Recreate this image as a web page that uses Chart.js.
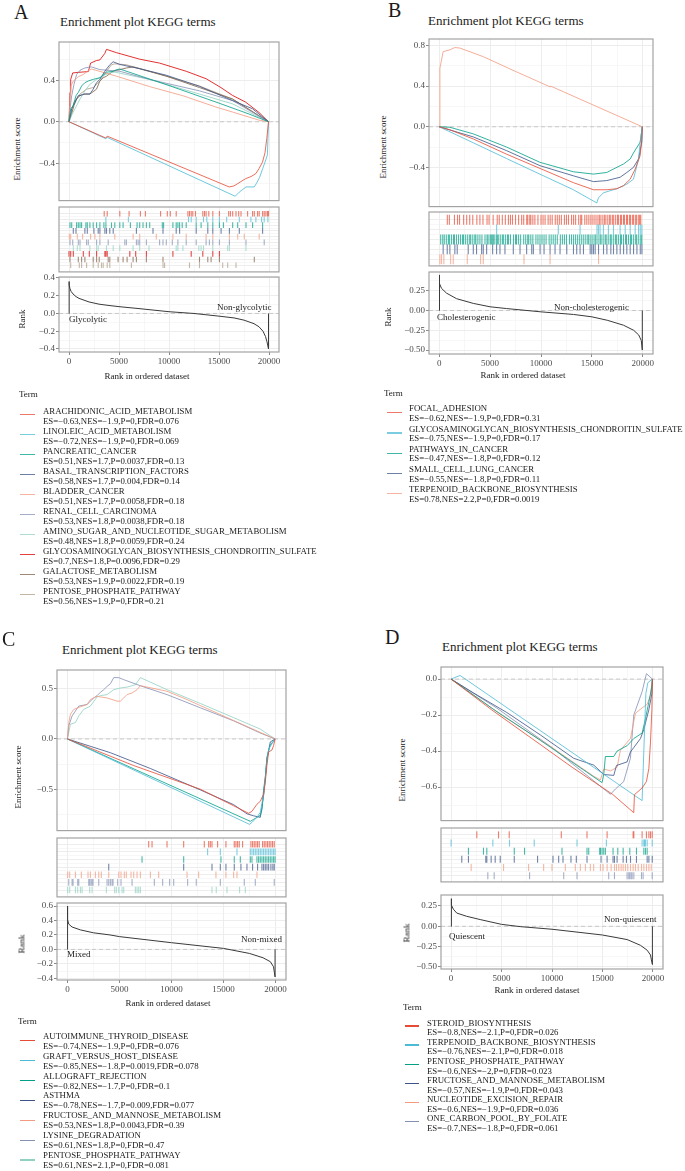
<!DOCTYPE html>
<html><head><meta charset="utf-8">
<script src="https://cdn.jsdelivr.net/npm/chart.js@4.4.1/dist/chart.umd.min.js"></script>
<style>
html,body{margin:0;padding:0;background:#fff;}
#root{position:relative;width:685px;height:1171px;overflow:hidden;font-family:"Liberation Serif","Times New Roman",serif;color:#1a1a1a;}
.t{position:absolute;white-space:nowrap;line-height:1;}
canvas{position:absolute;}
.k{position:absolute;height:1.3px;}
</style></head><body><div id="root"></div>
<script>
const FONT = '"Liberation Serif","Times New Roman",serif';
const npg = ['#E64B35','#4DBBD5','#00A087','#3C5488','#F39B7F','#8491B4','#91D1C2','#DC0000','#7E6148','#B09C85'];

// shared x axis
const xMin = -1000, xMax = 21000;
const xMajor = [0, 5000, 10000, 15000, 20000];
const xMinor = [2500, 7500, 12500, 17500];
const xTickLabels = ['0', '5000', '10000', '15000', '20000'];

// ---------------- Panel A ----------------
const termsA = ['ARACHIDONIC_ACID_METABOLISM','LINOLEIC_ACID_METABOLISM','PANCREATIC_CANCER','BASAL_TRANSCRIPTION_FACTORS','BLADDER_CANCER','RENAL_CELL_CARCINOMA','AMINO_SUGAR_AND_NUCLEOTIDE_SUGAR_METABOLISM','GLYCOSAMINOGLYCAN_BIOSYNTHESIS_CHONDROITIN_SULFATE','GALACTOSE_METABOLISM','PENTOSE_PHOSPHATE_PATHWAY'];
const statsA = ['ES=−0.63,NES=−1.9,P=0,FDR=0.076','ES=−0.72,NES=−1.9,P=0,FDR=0.069','ES=0.51,NES=1.7,P=0.0037,FDR=0.13','ES=0.58,NES=1.7,P=0.004,FDR=0.14','ES=0.51,NES=1.7,P=0.0058,FDR=0.18','ES=0.53,NES=1.8,P=0.0038,FDR=0.18','ES=0.48,NES=1.8,P=0.0059,FDR=0.24','ES=0.7,NES=1.8,P=0.0096,FDR=0.29','ES=0.53,NES=1.9,P=0.0022,FDR=0.19','ES=0.56,NES=1.9,P=0,FDR=0.21'];
const esAx = [
 [0,3680,3820,16020,16500,17000,17660,18200,18690,19020,19350,19600,19780,19950],
 [0,3680,3820,16620,17030,17700,18520,18720,19050,19380,19640,19840,19950],
 [0,170,430,700,930,1260,1590,1930,2420,3090,3750,4420,4750,5080,10000,15000,18000,19950],
 [0,270,600,930,1260,1590,2090,2420,2750,3090,3580,4080,4410,5080,7070,9720,13040,16350,18340,19950],
 [0,100,200,430,930,1430,1830,2260,4740,8060,11380,14700,16350,18990,19950],
 [0,100,270,500,760,1100,1590,1930,2260,3090,5080,8060,13040,16350,19950],
 [0,270,600,1100,1590,2090,2750,3420,4080,4580,8060,13040,16350,19950],
 [0,100,170,370,1100,1930,2160,2750,3090,3580,3750,4740,7070,9060,11720,13710,15200,16350,17660,19000,19950],
 [0,270,500,760,1100,1430,2090,2750,3090,3420,3750,4410,5080,5740,6400,9730,13040,16350,19950],
 [0,200,500,1100,1760,2420,3090,3750,4250,4580,5740,8060,13040,16350,19950]
];
const esAy = [
 [0,-0.157,-0.139,-0.63,-0.62,-0.59,-0.55,-0.53,-0.50,-0.45,-0.39,-0.30,-0.16,0],
 [0,-0.164,-0.151,-0.72,-0.68,-0.63,-0.63,-0.60,-0.54,-0.45,-0.38,-0.32,0],
 [0,0.126,0.157,0.252,0.283,0.346,0.378,0.394,0.41,0.425,0.479,0.488,0.504,0.51,0.35,0.18,0.075,0],
 [0,0.126,0.19,0.252,0.258,0.268,0.268,0.315,0.378,0.41,0.488,0.551,0.58,0.554,0.513,0.45,0.343,0.205,0.126,0],
 [0,0.22,0.346,0.394,0.435,0.457,0.488,0.51,0.441,0.34,0.252,0.142,0.094,0.016,0],
 [0,0.126,0.252,0.362,0.457,0.498,0.52,0.526,0.53,0.504,0.488,0.409,0.299,0.205,0],
 [0,0.063,0.126,0.22,0.299,0.362,0.409,0.447,0.472,0.48,0.409,0.268,0.173,0],
 [0,0.283,0.41,0.472,0.479,0.485,0.567,0.592,0.598,0.661,0.70,0.668,0.605,0.567,0.488,0.416,0.33,0.255,0.19,0.09,0],
 [0,0.079,0.157,0.22,0.252,0.268,0.268,0.315,0.394,0.425,0.441,0.488,0.504,0.52,0.53,0.441,0.331,0.22,0],
 [0,0.079,0.19,0.268,0.315,0.331,0.394,0.488,0.551,0.56,0.551,0.488,0.346,0.22,0]
];
const rugA = [
 [3520,3820,5080,6010,7140,7640,9160,9830,10130,10720,11890,12050,12220,12380,12650,13380,13550,13710,13980,14380,15040,15970,16140,16370,16700,16970,17200,17860,18360,18530,18860,19020,19360,19520,19690,19850,19950],
 [3690,5940,11950,12220,12720,13450,13780,14380,15040,15770,17030,18190,18690,19260,19520,19890],
 [100,270,760,930,1100,1260,1690,1830,2090,2420,2760,3090,3490,3690,4250,4580,5080,5410,6140,6810,7070,7400,7740,8070,9330,9460,10390,10720,10890,11060,11320,11720,12720,13210,13880,14380,15040,15440,16370,16870,17700,18360,19360],
 [430,700,1590,1830,2490,2920,3090,3590,3750,4080,4420,6740,8400,9400,10720,11060,12720,13880,14380,15210,16040,17030,19360],
 [30,170,830,1360,2160,2590,3090,4580,6410,7070,8730,10390,11720,13710,14380,16040,16870,17530,19020],
 [100,370,930,1100,1760,1930,2760,3090,3920,5580,5740,6740,6910,7070,7740,9060,9400,9730,10330,10890,11720,12720,13710,14040,14380,15040,16040,17700,19520],
 [430,830,1100,2090,2760,2920,3750,4420,5080,6410,7070,8000,10720,10890,11390,12980,13210,13450,14380,15870,16040,17700],
 [0,170,430,1430,2030,2760,3590,3690,3820,6080,6670,7740,10390,12220,13380,14380,15040],
 [100,930,1260,1590,2420,2760,3020,3920,4080,4910,5410,5810,6410,6740,7740,9400,13050,13880,14210,15040,18530],
 [170,1030,1260,1760,2420,2920,3250,3420,3820,4080,6240,9400,9560,12050,13050,15370,15870,16700]
];
const rankAx = [0,0,30,100,200,400,700,1000,1500,2000,3000,4000,5000,7000,10000,12500,15000,16500,17500,18500,19000,19400,19650,19800,19950,19950];
const rankAy = [0,0.36,0.32,0.28,0.25,0.22,0.19,0.17,0.15,0.13,0.105,0.09,0.077,0.055,0.02,0.0,-0.03,-0.05,-0.075,-0.115,-0.15,-0.2,-0.26,-0.32,-0.40,0];
const esAMajor = [-0.4, 0, 0.4], esAMinor = [-0.6, -0.2, 0.2, 0.6], esALabels = ['−0.4', '0.0', '0.4'];
const rankAMajor = [-0.4, -0.2, 0, 0.2, 0.4], rankAMinor = [-0.3, -0.1, 0.1, 0.3], rankALabels = ['−0.4', '−0.2', '0.0', '0.2', '0.4'];

// ---------------- Panel B ----------------
const termsB = ['FOCAL_ADHESION','GLYCOSAMINOGLYCAN_BIOSYNTHESIS_CHONDROITIN_SULFATE','PATHWAYS_IN_CANCER','SMALL_CELL_LUNG_CANCER','TERPENOID_BACKBONE_BIOSYNTHESIS'];
const statsB = ['ES=−0.62,NES=−1.9,P=0,FDR=0.31','ES=−0.75,NES=−1.9,P=0,FDR=0.17','ES=−0.47,NES=−1.8,P=0,FDR=0.12','ES=−0.55,NES=−1.8,P=0,FDR=0.11','ES=0.78,NES=2.2,P=0,FDR=0.0019'];
const esBx = [
 [0,1050,3350,6620,9900,13180,15150,16460,17450,18100,18760,19250,19740,19900,19950],
 [0,3350,6620,9900,13180,15480,15640,16130,17450,18430,19080,19250,19580,19740,19950],
 [0,1050,3350,6620,9900,13180,15150,16460,17770,18100,18760,19080,19740,19950],
 [0,3350,6620,9900,13180,15150,16460,17770,18430,19080,19580,19900,19950],
 [0,70,390,1050,1540,2030,4330,7600,10890,10950,15000,19950]
];
const esBy = [
 [0,-0.03,-0.12,-0.27,-0.41,-0.55,-0.62,-0.62,-0.61,-0.58,-0.516,-0.417,-0.284,-0.12,0],
 [0,-0.158,-0.313,-0.467,-0.62,-0.75,-0.70,-0.65,-0.61,-0.565,-0.516,-0.45,-0.317,-0.152,0],
 [0,-0.005,-0.07,-0.20,-0.35,-0.443,-0.466,-0.45,-0.383,-0.367,-0.317,-0.258,-0.152,0],
 [0,-0.10,-0.235,-0.383,-0.483,-0.54,-0.53,-0.497,-0.45,-0.40,-0.317,-0.152,0],
 [0,0.575,0.74,0.757,0.78,0.775,0.69,0.54,0.393,0.40,0.22,0]
];
const rugB = [
 [800,1000,1500,1800,2000,2400,2700,3000,3300,3700,4000,4300,4700,4900,5300,5700,5900,6200,6500,6800,7000,7200,7500,7800,8100,8300,8600,8700,8900,9000,9200,9400,9700,10000,10200,10400,10700,10900,11100,11400,11600,11800,12000,12300,12500,12700,13000,13200,13400,13700,13900,14000,14300,14500,14700,14900,15100,15300,15500,15700,15800,16000,16200,16300,16500,16700,16800,17000,17100,17300,17500,17600,17800,17900,18100,18200,18400,18500,18700,18800,19000,19100,19300,19400,19600,19700,19800],
 [5640,11700,13840,15500,15640,15800,16130,16620,17120,17770,18270,18760,19250,19580,19750,19900],
 [150,350,500,700,900,1000,1200,1400,1500,1700,1900,2100,2300,2400,2600,2800,3000,3100,3300,3500,3600,3800,4000,4200,4500,4700,4800,5000,5100,5200,5300,5400,5600,5700,5800,6000,6200,6300,6500,6700,6800,7000,7300,7500,7600,7800,8000,8300,8500,8700,8800,9000,9200,9500,9700,9900,10100,10300,10500,10800,11000,11200,11400,11600,11900,12100,12300,12500,12800,13000,13200,13400,13600,13800,14000,14200,14400,14600,14700,14900,15100,15300,15400,15600,15800,15900,16100,16300,16400,16600,16800,16900,17100,17300,17400,17600,17800,17900,18100,18300,18400,18600,18800,18900,19100,19300,19400,19600,19800,19900],
 [390,790,1050,1540,1770,2850,3350,3670,4170,4330,4660,5250,5640,5970,6460,7280,7940,8590,9090,9250,9910,10300,10890,11380,11870,12530,13190,13510,13840,14170,14830,14990,15150,15320,15650,16140,16470,16860,17120,17450,17780,18110,18430,18760,19090,19420,19750,19910],
 [70,230,460,1120,1380,2760,4070,4330,8330,10890,15650]
];
const rankBx = [0,0,65,230,720,1700,3350,5000,6600,10000,13200,15000,16500,18100,19100,19600,19850,19950,19950];
const rankBy = [0,0.45,0.34,0.28,0.22,0.15,0.09,0.047,0.025,-0.017,-0.05,-0.08,-0.123,-0.186,-0.25,-0.31,-0.38,-0.5,0];
const esBMajor = [-0.4, 0, 0.4, 0.8], esBMinor = [-0.6, -0.2, 0.2, 0.6], esBLabels = ['−0.4', '0.0', '0.4', '0.8'];
const rankBMajor = [-0.5, -0.25, 0, 0.25], rankBMinor = [-0.375, -0.125, 0.125, 0.375], rankBLabels = ['−0.50', '−0.25', '0.00', '0.25'];

// ---------------- Panel C ----------------
const termsC = ['AUTOIMMUNE_THYROID_DISEASE','GRAFT_VERSUS_HOST_DISEASE','ALLOGRAFT_REJECTION','ASTHMA','FRUCTOSE_AND_MANNOSE_METABOLISM','LYSINE_DEGRADATION','PENTOSE_PHOSPHATE_PATHWAY'];
const statsC = ['ES=−0.74,NES=−1.9,P=0,FDR=0.076','ES=−0.85,NES=−1.8,P=0.0019,FDR=0.078','ES=−0.82,NES=−1.7,P=0,FDR=0.1','ES=−0.78,NES=−1.7,P=0.009,FDR=0.077','ES=0.53,NES=1.8,P=0.0043,FDR=0.39','ES=0.61,NES=1.8,P=0,FDR=0.47','ES=0.61,NES=2.1,P=0,FDR=0.081'];
const esCx = [
 [0,6370,12770,15970,17410,17730,18210,18530,18850,19010,19170,19330,19650,19810,19950],
 [0,17500,17730,18210,18530,18850,19010,19170,19330,19650,19950],
 [0,17570,17890,18210,18530,18690,18850,19010,19170,19490,19950],
 [0,4130,7970,12770,15970,17250,17890,18530,18690,18850,19010,19170,19490,19950],
 [0,130,290,610,1250,1890,2210,2530,2850,3170,3810,4770,5090,5410,5730,6210,6690,7010,9570,11490,15970,19950],
 [0,130,450,1090,1890,2530,2850,3170,3490,3810,4130,4450,4930,5410,7010,9570,12770,15970,18530,19950],
 [0,290,770,1090,1570,2210,2850,3170,3810,4450,5090,5730,6530,7010,9570,12770,15970,18530,19950]
];
const esCy = [
 [0,-0.265,-0.50,-0.665,-0.74,-0.72,-0.65,-0.62,-0.55,-0.43,-0.26,-0.13,-0.11,-0.065,0],
 [0,-0.85,-0.83,-0.78,-0.73,-0.55,-0.40,-0.22,-0.10,-0.05,0],
 [0,-0.82,-0.80,-0.78,-0.76,-0.70,-0.50,-0.38,-0.18,-0.06,0],
 [0,-0.137,-0.294,-0.507,-0.654,-0.745,-0.765,-0.78,-0.68,-0.56,-0.39,-0.20,-0.03,0],
 [0,0.163,0.245,0.294,0.32,0.343,0.392,0.408,0.425,0.418,0.408,0.376,0.376,0.408,0.441,0.457,0.49,0.53,0.474,0.392,0.183,0],
 [0,0.13,0.229,0.327,0.343,0.408,0.431,0.464,0.49,0.523,0.549,0.61,0.61,0.59,0.529,0.441,0.31,0.18,0.059,0],
 [0,0.147,0.163,0.229,0.294,0.327,0.418,0.431,0.441,0.49,0.507,0.516,0.539,0.61,0.49,0.353,0.212,0.098,0]
];
const rugC = [
 [7810,8130,9570,11170,13150,13570,13730,13890,14430,15230,16030,16190,16350,16510,16830,17630,17790,17950,18110,18270,18430,18750,18910,19070,19230,19390,19550,19710,19870],
 [13470,14690,16290,17570,17730,17890,18050,18210,18370,18530,18690,18850,19010,19170,19330,19490,19650,19810,19950],
 [7170,11170,14750,16030,16610,17570,17730,18210,18370,18530,18690,18850,19010,19170,19330,19490,19650,19810,19950],
 [3970,11170,13890,14690,15230,16030,16670,17250,17790,18270,18690,18850,19010,19170,19330,19550,19740,19870],
 [30,220,770,1340,1980,2210,2690,3010,3260,3970,4930,5150,5470,5660,6110,6370,6690,7010,7970,8770,11490,12610,14270,15230,15970,16290,18210],
 [130,450,540,990,1090,2050,2140,2270,2370,2460,3010,3810,3970,4130,4290,4380,4830,5150,6210,8350,9150,9820,10210,11550,12380,14690,16990,18050,19870],
 [30,220,770,990,1250,1410,2140,2370,3740,4540,4700,4930,5250,5410,6530,6690,6850,7010,13890,14300,15330,16540,17090]
];
const rankCx = [0,0,30,130,450,1250,2500,4100,5000,10000,15000,17500,18800,19500,19800,19950,19950];
const rankCy = [0,0.6,0.41,0.35,0.31,0.27,0.23,0.2,0.177,0.093,0.014,-0.056,-0.116,-0.17,-0.24,-0.38,0];
const esCMajor = [-0.5, 0, 0.5], esCMinor = [-0.75, -0.25, 0.25], esCLabels = ['−0.5', '0.0', '0.5'];
const rankCMajor = [-0.4, -0.2, 0, 0.2, 0.4, 0.6], rankCMinor = [-0.3, -0.1, 0.1, 0.3, 0.5], rankCLabels = ['−0.4', '−0.2', '0.0', '0.2', '0.4', '0.6'];

// ---------------- Panel D ----------------
const termsD = ['STEROID_BIOSYNTHESIS','TERPENOID_BACKBONE_BIOSYNTHESIS','PENTOSE_PHOSPHATE_PATHWAY','FRUCTOSE_AND_MANNOSE_METABOLISM','NUCLEOTIDE_EXCISION_REPAIR','ONE_CARBON_POOL_BY_FOLATE'];
const statsD = ['ES=−0.8,NES=−2.1,P=0,FDR=0.026','ES=−0.76,NES=−2.1,P=0,FDR=0.018','ES=−0.6,NES=−2,P=0,FDR=0.023','ES=−0.57,NES=−1.9,P=0,FDR=0.043','ES=−0.6,NES=−1.9,P=0,FDR=0.036','ES=−0.7,NES=−1.8,P=0,FDR=0.061'];
const esDx = [
 [0,4000,8000,12000,16000,18100,18170,18930,19360,19600,19760,19900,19950],
 [0,890,18930,19100,19300,19500,19950],
 [0,4200,8840,14960,15130,15290,16120,16450,17440,18110,18930,19260,19590,19900,19950],
 [0,2220,5530,8840,12150,14140,15130,16120,16390,17440,17770,18110,18770,19100,19600,19900,19950],
 [0,5000,10000,14140,14800,15130,15800,16450,16780,17770,18270,18930,19430,19760,19950],
 [0,4500,10000,15800,16290,17100,17770,18100,18930,19360,19950]
];
const esDy = [
 [0,-0.17,-0.33,-0.49,-0.64,-0.742,-0.642,-0.605,-0.569,-0.496,-0.35,-0.168,0],
 [0,0.02,-0.675,-0.40,-0.08,-0.02,0],
 [0,-0.168,-0.34,-0.575,-0.53,-0.43,-0.43,-0.40,-0.37,-0.33,-0.30,-0.22,-0.13,-0.04,0],
 [0,-0.077,-0.186,-0.31,-0.44,-0.478,-0.53,-0.535,-0.48,-0.46,-0.405,-0.38,-0.33,-0.28,-0.17,-0.08,0],
 [0,-0.2,-0.38,-0.54,-0.56,-0.50,-0.51,-0.49,-0.395,-0.33,-0.19,-0.16,-0.14,-0.09,0],
 [0,-0.16,-0.38,-0.64,-0.61,-0.57,-0.44,-0.20,-0.07,0.03,0]
];
const rugD = [
 [2550,4700,5760,10920,13470,15460,18040,18110,18930,19360,19600,19760,19930],
 [0,4140,5790,8240,12480,15390,18930,19100,19170,19260,19430,19930],
 [1720,3210,3540,6260,7280,10990,13470,13640,14730,14800,14960,15130,15290,16050,16520,17050,17710,18370,19100,19260,19430],
 [1060,1720,3440,3540,3970,4370,4870,6260,8570,10100,10660,11090,11880,12410,13470,14860,15460,16050,16190,16450,17050,17380,17780,18370,19430,19600,19930],
 [1990,5200,7680,9170,10000,11320,12310,12810,13310,13800,14130,14800,15060,15460,15860,16190,16390,16620,16850,17050,17280,17510,17780,18040,18270,18540,18870,19100,19360,19600,19830],
 [3640,4270,7780,11160,12480,15620,16190,17440,17610,17710,17840,17940,18110,18870,19030,19930]
];
const rankDx = [0,0,60,230,560,1550,2880,5000,6850,10000,15000,17450,18770,19430,19760,19850,19950,19950];
const rankDy = [0,0.34,0.26,0.21,0.163,0.123,0.083,0.024,-0.004,-0.036,-0.107,-0.163,-0.234,-0.294,-0.353,-0.413,-0.47,0];
const esDMajor = [-0.6, -0.4, -0.2, 0], esDMinor = [-0.7, -0.5, -0.3, -0.1], esDLabels = ['−0.6', '−0.4', '−0.2', '0.0'];
const rankDMajor = [-0.5, -0.25, 0, 0.25], rankDMinor = [-0.375, -0.125, 0.125], rankDLabels = ['−0.50', '−0.25', '0.00', '0.25'];

// ---------------- helpers ----------------
const root = document.getElementById('root');
const GRID_MAJ = '#EBEBEB', GRID_MIN = '#F2F2F2', TICK_COL = '#8A8A8A';
const LEG_SIZE = 8.8;

function rgba(hex, a) {
  const n = parseInt(hex.slice(1), 16);
  return 'rgba(' + (n >> 16 & 255) + ',' + (n >> 8 & 255) + ',' + (n & 255) + ',' + a + ')';
}
function pts(xs, ys) { return xs.map((x, i) => ({ x: x, y: ys[i] })); }

function addText(str, x, y, size, opt) {
  opt = opt || {};
  const d = document.createElement('div');
  d.className = 't';
  d.textContent = str;
  d.style.fontSize = size + 'px';
  d.style.left = x + 'px';
  d.style.top = y + 'px';
  let tf = 'translateY(-50%)';
  if (opt.align === 'center') tf = 'translate(-50%,-50%)';
  if (opt.align === 'right') tf = 'translate(-100%,-50%)';
  if (opt.rotate) tf = 'translate(-50%,-50%) rotate(-90deg)';
  d.style.transform = tf;
  if (opt.color) d.style.color = opt.color;
  root.appendChild(d);
}

const boxPlugin = {
  id: 'panelBox',
  afterDatasetsDraw(chart) {
    const a = chart.chartArea, ctx = chart.ctx;
    ctx.save();
    ctx.strokeStyle = '#A3A3A3';
    ctx.lineWidth = 1.2;
    ctx.strokeRect(a.left, a.top, a.right - a.left, a.bottom - a.top);
    ctx.restore();
  }
};

function makeChart(box, o) {
  const YW = 34, PR = 18, PT = 8;
  const XH = o.xLabels ? 20 : 0;
  const PB = o.xLabels ? 0 : 4;
  const w = (box[1] - box[0]) + YW + PR;
  const h = (box[3] - box[2]) + PT + XH + PB;
  const c = document.createElement('canvas');
  c.width = w; c.height = h;
  c.style.left = (box[0] - YW) + 'px';
  c.style.top = (box[2] - PT) + 'px';
  c.style.width = w + 'px';
  c.style.height = h + 'px';
  root.appendChild(c);
  const xGrid = xMajor.concat(xMinor).sort((a, b) => a - b);
  const yGrid = o.yMajor.concat(o.yMinor).sort((a, b) => a - b);
  const xm = v => xMajor.indexOf(v) >= 0;
  const ym = v => o.yMajor.indexOf(v) >= 0;
  return new Chart(c, {
    type: 'line',
    data: { datasets: o.datasets },
    options: {
      responsive: false, animation: false, devicePixelRatio: 1, events: [],
      layout: { padding: { left: 0, right: PR, top: PT, bottom: PB } },
      plugins: { legend: { display: false }, tooltip: { enabled: false } },
      elements: { point: { radius: 0 }, line: { tension: 0 } },
      scales: {
        x: {
          type: 'linear', min: xMin, max: xMax, border: { display: false },
          afterBuildTicks: s => { s.ticks = xGrid.map(v => ({ value: v })); },
          afterFit: s => { s.height = XH; },
          ticks: { display: !!o.xLabels, autoSkip: false, maxRotation: 0, padding: 1, color: '#4D4D4D',
            font: { family: FONT, size: 9 },
            callback: v => { const i = xMajor.indexOf(v); return i >= 0 ? xTickLabels[i] : ''; } },
          grid: { drawTicks: !!o.xLabels, tickLength: 3,
            color: ctx => xm(ctx.tick && ctx.tick.value) ? GRID_MAJ : GRID_MIN,
            lineWidth: ctx => xm(ctx.tick && ctx.tick.value) ? 0.9 : 0.6,
            tickColor: ctx => xm(ctx.tick && ctx.tick.value) ? TICK_COL : 'rgba(0,0,0,0)', tickWidth: 1 }
        },
        y: {
          type: 'linear', min: o.yMin, max: o.yMax, reverse: !!o.reverse, border: { display: false },
          afterBuildTicks: s => { s.ticks = yGrid.map(v => ({ value: v })); },
          afterFit: s => { s.width = YW; },
          ticks: { display: !!o.yLabels, autoSkip: false, padding: 1, color: '#4D4D4D',
            font: { family: FONT, size: 9 },
            callback: v => { const i = o.yMajor.indexOf(v); return (i >= 0 && o.yLabels) ? o.yLabels[i] : ''; } },
          grid: { drawTicks: !!o.yLabels, tickLength: 3,
            color: ctx => ym(ctx.tick && ctx.tick.value) ? GRID_MAJ : GRID_MIN,
            lineWidth: ctx => ym(ctx.tick && ctx.tick.value) ? 0.9 : 0.6,
            tickColor: ctx => ym(ctx.tick && ctx.tick.value) ? TICK_COL : 'rgba(0,0,0,0)', tickWidth: 1 }
        }
      }
    },
    plugins: [boxPlugin]
  });
}

function hline() {
  return { data: [{ x: xMin, y: 0 }, { x: xMax, y: 0 }], borderColor: '#C4C4C4', borderWidth: 0.9,
    borderDash: [4, 3], pointRadius: 0, order: 50 };
}
function esDatasets(xs, ys, cols) {
  const ds = xs.map((xx, i) => ({ data: pts(xx, ys[i]), borderColor: rgba(cols[i], 0.9), borderWidth: 0.9,
    pointRadius: 0, order: 1 }));
  ds.push(hline());
  return ds;
}
function rugDatasets(rows, cols, r) {
  return rows.map((row, i) => ({ type: 'scatter', data: row.map(x => ({ x: x, y: i + 1 })),
    pointStyle: 'line', rotation: 90, pointRadius: r, pointBorderWidth: 1.1,
    pointBorderColor: rgba(cols[i], 0.72), borderColor: rgba(cols[i], 0.72), showLine: false }));
}
function rankDatasets(xs, ys) {
  return [{ data: pts(xs, ys), borderColor: '#3A3A3A', borderWidth: 1, pointRadius: 0, order: 1 }, hline()];
}
function legend(terms, stats, cols, keyX, textX, y0, sp, esOff, keyW, keyOff) {
  terms.forEach((t, i) => {
    const y = y0 + i * sp;
    const k = document.createElement('div');
    k.className = 'k';
    k.style.left = keyX + 'px';
    k.style.width = keyW + 'px';
    k.style.top = (y + keyOff - 0.65) + 'px';
    k.style.background = cols[i];
    root.appendChild(k);
    addText(t, textX, y, LEG_SIZE);
    addText(stats[i], textX, y + esOff, LEG_SIZE);
  });
}

// ---------------- Panel A ----------------
const colA = npg.slice(0, 10);
addText('A', 14, 11.5, 20);
addText('Enrichment plot KEGG terms', 60, 21, 13);
makeChart([59, 279, 42, 203], { datasets: esDatasets(esAx, esAy, colA), yMin: -0.762, yMax: 0.771,
  yMajor: esAMajor, yMinor: esAMinor, yLabels: esALabels });
makeChart([59, 279, 207, 273], { datasets: rugDatasets(rugA, colA, 2.8), yMin: -0.17, yMax: 11.15, reverse: true,
  yMajor: [1,2,3,4,5,6,7,8,9,10], yMinor: [1.5,2.5,3.5,4.5,5.5,6.5,7.5,8.5,9.5] });
makeChart([59, 279, 277, 352], { datasets: rankDatasets(rankAx, rankAy), yMin: -0.434, yMax: 0.411,
  yMajor: rankAMajor, yMinor: rankAMinor, yLabels: rankALabels, xLabels: true });
addText('Enrichment score', 17, 149, 9, { rotate: true });
addText('Rank', 22, 318.5, 9, { rotate: true });
addText('Rank in ordered dataset', 147, 375.5, 9, { align: 'center' });
addText('Glycolytic', 69, 319, 9);
addText('Non-glycolytic', 217, 307, 9);
addText('Term', 19, 394, 9);
legend(termsA, statsA, colA.map(c => rgba(c, 0.75)), 20, 43, 411, 20, 10.3, 15, 3.8);

// ---------------- Panel B ----------------
const colB = npg.slice(0, 5);
addText('B', 388, 10, 20);
addText('Enrichment plot KEGG terms', 428, 19.5, 13);
makeChart([429, 653, 39, 209], { datasets: esDatasets(esBx, esBy, colB), yMin: -0.786, yMax: 0.864,
  yMajor: esBMajor, yMinor: esBMinor, yLabels: esBLabels });
makeChart([429, 653, 212, 268], { datasets: rugDatasets(rugB, colB, 5), yMin: 0.22, yMax: 5.68, reverse: true,
  yMajor: [1,2,3,4,5], yMinor: [1.5,2.5,3.5,4.5] });
makeChart([429, 653, 272, 354], { datasets: rankDatasets(rankBx, rankBy), yMin: -0.55, yMax: 0.487,
  yMajor: rankBMajor, yMinor: rankBMinor, yLabels: rankBLabels, xLabels: true });
addText('Enrichment score', 383, 147, 9, { rotate: true });
addText('Rank', 388, 317, 9, { rotate: true });
addText('Rank in ordered dataset', 523, 375, 9, { align: 'center' });
addText('Cholesterogenic', 437, 317, 9);
addText('Non-cholesterogenic', 554, 306.5, 9);
addText('Term', 384, 393, 9);
legend(termsB, statsB, colB.map(c => rgba(c, 0.75)), 387, 409, 408.3, 20.25, 9.5, 15, 4.4);

// ---------------- Panel C ----------------
const colC = npg.slice(0, 7);
addText('C', 2, 638.5, 20);
addText('Enrichment plot KEGG terms', 62, 648.5, 13);
makeChart([57, 286, 670, 833], { datasets: esDatasets(esCx, esCy, colC), yMin: -0.912, yMax: 0.686,
  yMajor: esCMajor, yMinor: esCMinor, yLabels: esCLabels });
makeChart([57, 286, 838, 898], { datasets: rugDatasets(rugC, colC, 3.3), yMin: 0.19, yMax: 7.9, reverse: true,
  yMajor: [1,2,3,4,5,6,7], yMinor: [1.5,2.5,3.5,4.5,5.5,6.5] });
makeChart([57, 286, 903, 980], { datasets: rankDatasets(rankCx, rankCy), yMin: -0.423, yMax: 0.642,
  yMajor: rankCMajor, yMinor: rankCMinor, yLabels: rankCLabels, xLabels: true });
addText('Enrichment score', 18, 776.5, 9, { rotate: true });
addText('Rank', 22, 944, 9, { rotate: true });
addText('Rank in ordered dataset', 168, 1002.5, 9, { align: 'center' });
addText('Mixed', 67, 954, 9);
addText('Non-mixed', 241, 939, 9);
addText('Term', 18, 1021, 9);
legend(termsC, statsC, colC, 20, 43, 1035.7, 19.9, 10, 15, 5);

// ---------------- Panel D ----------------
const colD = npg.slice(0, 6);
addText('D', 385, 636.5, 20);
addText('Enrichment plot KEGG terms', 442, 645.5, 13);
makeChart([441, 663, 667, 823], { datasets: esDatasets(esDx, esDy, colD), yMin: -0.786, yMax: 0.067,
  yMajor: esDMajor, yMinor: esDMinor, yLabels: esDLabels });
makeChart([441, 663, 828, 883], { datasets: rugDatasets(rugD, colD, 3.5), yMin: 0.16, yMax: 6.76, reverse: true,
  yMajor: [1,2,3,4,5,6], yMinor: [1.5,2.5,3.5,4.5,5.5] });
makeChart([441, 663, 895, 969], { datasets: rankDatasets(rankDx, rankDy), yMin: -0.525, yMax: 0.385,
  yMajor: rankDMajor, yMinor: rankDMinor, yLabels: rankDLabels, xLabels: true });
addText('Enrichment score', 402, 770, 9, { rotate: true });
addText('Rank', 407, 933, 9, { rotate: true });
addText('Rank in ordered dataset', 537, 990, 9, { align: 'center' });
addText('Quiescent', 449, 936, 9);
addText('Non-quiescent', 604, 919, 9);
addText('Term', 403, 1007, 9);
legend(termsD, statsD, colD, 405, 427, 1022.7, 19.1, 9.6, 14, 3.3);
</script></body></html>
